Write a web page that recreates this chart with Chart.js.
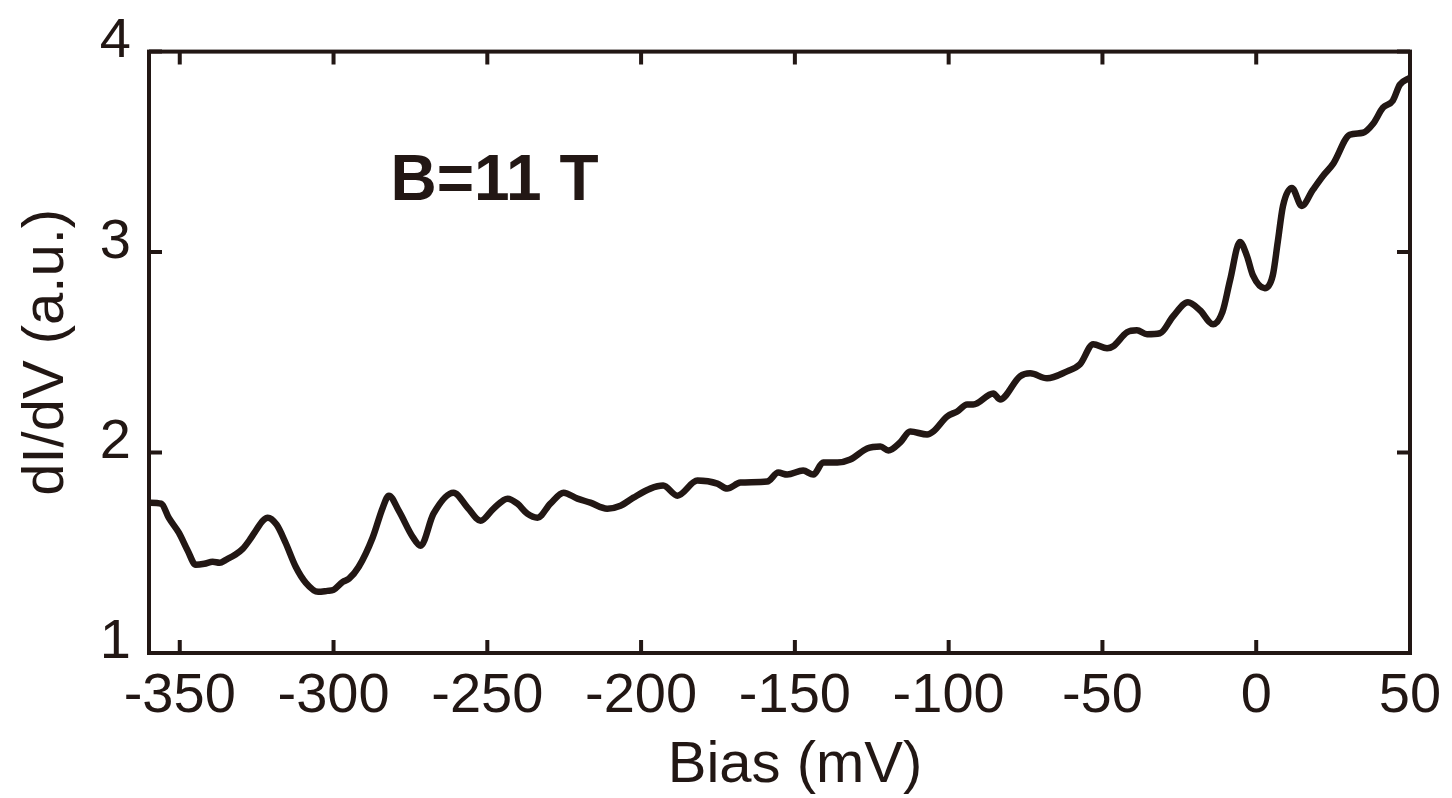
<!DOCTYPE html>
<html>
<head>
<meta charset="utf-8">
<title>dI/dV vs Bias, B=11 T</title>
<script src="https://cdn.jsdelivr.net/npm/chart.js@4/dist/chart.umd.min.js"></script>
<style>
  html, body { margin: 0; padding: 0; background: #fff; }
  #wrap { width: 1452px; height: 798px; }
</style>
</head>
<body>
<div id="wrap"><canvas id="chart" width="1452" height="798"></canvas></div>
<script>
// values
const biasMV = [
  -360, -356, -353.6, -350.3, -347.4, -344.8, -342, -339.3, -337, -335,
  -332, -329.5, -327, -325.3, -323, -321.4, -318.5, -315.6, -312.3, -309,
  -305, -302, -300, -297, -295, -291.8, -287.3, -284, -282, -278.8,
  -274.3, -271.7, -267.5, -261, -256.4, -252.2, -248, -243.4, -240.2, -237,
  -233.7, -229.5, -225.2, -220.7, -216.5, -211, -206.7, -202.5, -197, -192.8,
  -188.2, -181.7, -175.2, -172, -167.7, -159, -155.4, -152.5, -147.3, -144,
  -140.8, -136.2, -132, -126.5, -122.2, -119.6, -115.8, -112.5, -107, -105,
  -100.5, -97.2, -94, -92, -85.5, -83.3, -76.8, -73.5, -68, -61.5,
  -57.3, -53, -48.5, -46.5, -42, -38.8, -35.5, -31.3, -27, -22.2,
  -18.3, -14, -11, -8.5, -5.3, -3, -1.1, 2.8, 5.4, 7,
  8.7, 11.6, 14.8, 18.4, 21.7, 25, 30.4, 34.7, 38, 41.2,
  44.4, 46.7, 50
];
const dIdV = [
  1.75, 1.745, 1.675, 1.60, 1.51, 1.44, 1.445, 1.455, 1.45, 1.465,
  1.49, 1.52, 1.57, 1.61, 1.66, 1.675, 1.64, 1.55, 1.43, 1.35,
  1.305, 1.31, 1.315, 1.355, 1.37, 1.43, 1.575, 1.725, 1.785, 1.71,
  1.58, 1.535, 1.695, 1.80, 1.725, 1.66, 1.72, 1.77, 1.745, 1.695,
  1.675, 1.745, 1.80, 1.77, 1.75, 1.72, 1.735, 1.775, 1.82, 1.835,
  1.785, 1.86, 1.845, 1.82, 1.85, 1.855, 1.90, 1.89, 1.91, 1.89,
  1.95, 1.95, 1.965, 2.02, 2.03, 2.01, 2.05, 2.105, 2.09, 2.105,
  2.18, 2.205, 2.24, 2.24, 2.295, 2.265, 2.38, 2.395, 2.37, 2.405,
  2.44, 2.54, 2.52, 2.53, 2.60, 2.61, 2.59, 2.595, 2.68, 2.75,
  2.71, 2.64, 2.70, 2.86, 3.05, 2.98, 2.885, 2.82, 2.885, 3.05,
  3.23, 3.32, 3.23, 3.31, 3.38, 3.44, 3.585, 3.595, 3.64, 3.72,
  3.755, 3.835, 3.87
];
const xTicks = [-350, -300, -250, -200, -150, -100, -50, 0, 50];
const yTicks = [1, 2, 3, 4];

const INK = "#221714";
const FONT = "'Liberation Sans', Arial, sans-serif";

// frame with inward ticks on all four sides, x title and the field label
const framePlugin = {
  id: "frame",
  afterDraw(chart) {
    const { ctx, chartArea: a, scales } = chart;
    const tick = 13;
    ctx.save();
    ctx.strokeStyle = INK;
    ctx.lineWidth = 4;
    ctx.lineCap = "butt";
    ctx.strokeRect(a.left, a.top, a.right - a.left, a.bottom - a.top);
    ctx.beginPath();
    for (const v of xTicks) {
      const px = scales.x.getPixelForValue(v);
      ctx.moveTo(px, a.bottom); ctx.lineTo(px, a.bottom - tick);
      ctx.moveTo(px, a.top); ctx.lineTo(px, a.top + tick);
    }
    for (const v of yTicks) {
      const py = scales.y.getPixelForValue(v);
      ctx.moveTo(a.left, py); ctx.lineTo(a.left + tick, py);
      ctx.moveTo(a.right, py); ctx.lineTo(a.right - tick, py);
    }
    ctx.stroke();

    ctx.fillStyle = INK;
    ctx.textBaseline = "alphabetic";
    ctx.font = `58px ${FONT}`;
    ctx.textAlign = "center";
    ctx.fillText("Bias (mV)", 795, 782);

    ctx.font = `bold 64px ${FONT}`;
    ctx.textAlign = "left";
    ctx.fillText("B=11 T", scales.x.getPixelForValue(-281.5), scales.y.getPixelForValue(3.26));
    ctx.restore();
  }
};

new Chart(document.getElementById("chart"), {
  type: "scatter",
  data: {
    datasets: [{
      data: biasMV.map((x, i) => ({ x, y: dIdV[i] })),
      showLine: true,
      borderColor: INK,
      borderWidth: 6.5,
      pointRadius: 0,
      cubicInterpolationMode: "monotone",
      borderJoinStyle: "round",
      borderCapStyle: "round",
    }]
  },
  options: {
    responsive: false,
    animation: false,
    layout: { padding: { top: 47, right: 42, left: 0, bottom: 0 } },
    plugins: { legend: { display: false }, tooltip: { enabled: false } },
    scales: {
      x: {
        type: "linear",
        min: -360, max: 50,
        afterBuildTicks: s => { s.ticks = xTicks.map(value => ({ value })); },
        afterFit: s => { s.height = 145; },
        grid: { display: false, drawTicks: false },
        border: { display: false },
        ticks: { color: INK, font: { family: FONT, size: 56 }, padding: 10, maxRotation: 0 }
      },
      y: {
        type: "linear",
        min: 1, max: 4,
        afterBuildTicks: s => { s.ticks = yTicks.map(value => ({ value })); },
        afterFit: s => { s.width = 149; },
        grid: { display: false, drawTicks: false },
        border: { display: false },
        ticks: { color: INK, font: { family: FONT, size: 56 }, padding: 18, labelOffset: -10 },
        title: {
          display: true, text: "dI/dV (a.u.)", color: INK,
          font: { family: FONT, size: 58 }, padding: { top: 12, bottom: 0 }
        }
      }
    }
  },
  plugins: [framePlugin]
});
</script>
</body>
</html>
